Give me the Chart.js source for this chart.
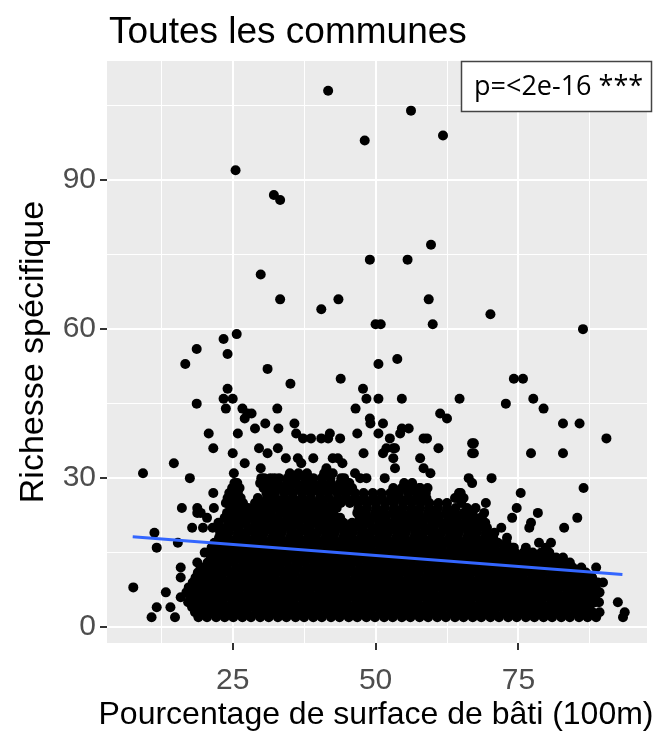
<!DOCTYPE html>
<html>
<head>
<meta charset="utf-8">
<title>Toutes les communes</title>
<script src="https://cdn.jsdelivr.net/npm/chart.js@4.4.1/dist/chart.umd.min.js"></script>
<style>
  body { margin: 0; background: #ffffff; }
  canvas { display: block; }
</style>
</head>
<body>
<canvas id="chart" width="667" height="732"></canvas>
<script>
var richesse = [2, 3, 4, 5, 6, 7, 8, 9, 10, 11, 12, 13, 14, 15, 16, 17, 18, 19, 20, 21, 22, 23, 24, 25, 26, 27, 28, 29, 30, 31];
var batiParRichesse = [
  [19.0, 20.5, 22.1, 23.6, 25.1, 26.7, 28.2, 29.8, 31.3, 32.9, 34.4, 36.0, 37.5, 39.1, 40.6, 42.2, 43.7, 45.3, 46.8, 48.4, 49.9, 51.5, 53.0, 54.6, 56.1, 57.7, 59.2, 60.8, 62.3, 63.9, 65.4, 67.0, 68.5, 70.1, 71.6, 73.2, 74.7, 76.3, 77.8, 79.4, 80.9, 82.5, 84.0, 85.6, 87.1, 88.6],
  [18.4, 19.8, 21.3, 22.9, 24.4, 26.0, 27.5, 29.1, 30.6, 32.2, 33.7, 35.3, 36.8, 38.4, 39.9, 41.5, 43.0, 44.6, 46.1, 47.7, 49.2, 50.8, 52.3, 53.9, 55.4, 57.0, 58.5, 60.1, 61.6, 63.2, 64.7, 66.3, 67.8, 69.4, 70.9, 72.5, 74.0, 75.6, 77.1, 78.7, 80.2, 81.8, 83.3, 84.9, 86.4, 88.0, 89.2],
  [17.9, 19.3, 20.8, 22.4, 23.9, 25.5, 27.0, 28.6, 30.1, 31.7, 33.2, 34.8, 36.3, 37.9, 39.4, 41.0, 42.5, 44.1, 45.6, 47.2, 48.7, 50.3, 51.8, 53.4, 54.9, 56.5, 58.0, 59.6, 61.1, 62.7, 64.2, 65.8, 67.3, 68.9, 70.4, 72.0, 73.5, 75.1, 76.6, 78.2, 79.7, 81.3, 82.8, 84.4, 85.9, 87.4],
  [17.2, 18.7, 20.2, 21.8, 23.3, 24.9, 26.4, 28.0, 29.5, 31.1, 32.6, 34.2, 35.7, 37.3, 38.8, 40.4, 41.9, 43.5, 45.0, 46.6, 48.1, 49.7, 51.2, 52.8, 54.3, 55.9, 57.4, 59.0, 60.5, 62.1, 63.6, 65.2, 66.7, 68.3, 69.8, 71.4, 72.9, 74.5, 76.0, 77.6, 79.1, 80.7, 82.2, 83.8, 85.3, 86.9, 88.4, 89.1],
  [17.6, 19.1, 20.6, 22.2, 23.7, 25.3, 26.8, 28.4, 29.9, 31.5, 33.0, 34.6, 36.1, 37.7, 39.2, 40.8, 42.3, 43.9, 45.4, 47.0, 48.5, 50.1, 51.6, 53.2, 54.7, 56.3, 57.8, 59.4, 60.9, 62.5, 64.0, 65.6, 67.1, 68.7, 70.2, 71.8, 73.3, 74.9, 76.4, 78.0, 79.5, 81.1, 82.6, 84.2, 85.7, 87.2, 88.4],
  [16.9, 18.4, 19.9, 21.5, 23.0, 24.6, 26.1, 27.7, 29.2, 30.8, 32.3, 33.9, 35.4, 37.0, 38.5, 40.1, 41.6, 43.2, 44.7, 46.3, 47.8, 49.4, 50.9, 52.5, 54.0, 55.6, 57.1, 58.7, 60.2, 61.8, 63.3, 64.9, 66.4, 68.0, 69.5, 71.1, 72.6, 74.2, 75.7, 77.3, 78.8, 80.4, 81.9, 83.5, 85.0, 86.6, 88.1, 89.0],
  [17.3, 18.8, 20.3, 21.9, 23.4, 25.0, 26.5, 28.1, 29.6, 31.2, 32.7, 34.3, 35.8, 37.4, 38.9, 40.5, 42.0, 43.6, 45.1, 46.7, 48.2, 49.8, 51.3, 52.9, 54.4, 56.0, 57.5, 59.1, 60.6, 62.2, 63.7, 65.3, 66.8, 68.4, 69.9, 71.5, 73.0, 74.6, 76.1, 77.7, 79.2, 80.8, 82.3, 83.9, 85.4, 87.0, 88.5],
  [18.0, 19.6, 21.1, 22.7, 24.2, 25.8, 27.3, 28.9, 30.4, 32.0, 33.5, 35.1, 36.6, 38.2, 39.7, 41.3, 42.8, 44.4, 45.9, 47.5, 49.0, 50.6, 52.1, 53.7, 55.2, 56.8, 58.3, 59.9, 61.4, 63.0, 64.5, 66.1, 67.6, 69.2, 70.7, 72.3, 73.8, 75.4, 76.9, 78.5, 80.0, 81.6, 83.1, 84.7, 86.2, 87.8, 88.9],
  [18.5, 20.0, 21.6, 23.1, 24.7, 26.2, 27.8, 29.3, 30.9, 32.4, 34.0, 35.5, 37.1, 38.6, 40.2, 41.7, 43.3, 44.8, 46.4, 47.9, 49.5, 51.0, 52.6, 54.1, 55.7, 57.2, 58.8, 60.3, 61.9, 63.4, 65.0, 66.5, 68.1, 69.6, 71.2, 72.7, 74.3, 75.8, 77.4, 78.9, 80.5, 82.0, 83.6, 85.1, 86.7, 87.9],
  [18.9, 20.4, 22.0, 23.5, 25.1, 26.6, 28.2, 29.7, 31.3, 32.8, 34.4, 35.9, 37.5, 39.0, 40.6, 42.1, 43.7, 45.2, 46.8, 48.3, 49.9, 51.4, 53.0, 54.5, 56.1, 57.6, 59.2, 60.7, 62.3, 63.8, 65.4, 66.9, 68.5, 70.0, 71.6, 73.1, 74.7, 76.2, 77.8, 79.3, 80.9, 82.4, 84.0, 85.5, 86.8],
  [19.4, 20.9, 22.5, 24.0, 25.6, 27.1, 28.7, 30.2, 31.8, 33.3, 34.9, 36.4, 38.0, 39.5, 41.1, 42.6, 44.2, 45.7, 47.3, 48.8, 50.4, 51.9, 53.5, 55.0, 56.6, 58.1, 59.7, 61.2, 62.8, 64.3, 65.9, 67.4, 69.0, 70.5, 72.1, 73.6, 75.2, 76.7, 78.3, 79.8, 81.4, 82.9, 84.5, 86.0],
  [20.6, 22.1, 23.7, 25.2, 26.8, 28.3, 29.9, 31.4, 33.0, 34.5, 36.1, 37.6, 39.2, 40.7, 42.3, 43.8, 45.4, 46.9, 48.5, 50.0, 51.6, 53.1, 54.7, 56.2, 57.8, 59.3, 60.9, 62.4, 64.0, 65.5, 67.1, 68.6, 70.2, 71.7, 73.3, 74.8, 76.4, 77.9, 79.5, 81.0, 82.6, 84.0],
  [21.2, 22.7, 24.3, 25.8, 27.4, 28.9, 30.5, 32.0, 33.6, 35.1, 36.7, 38.2, 39.8, 41.3, 42.9, 44.4, 46.0, 47.5, 49.1, 50.6, 52.2, 53.7, 55.3, 56.8, 58.4, 59.9, 61.5, 63.0, 64.6, 66.1, 67.7, 69.2, 70.8, 72.3, 73.9, 75.4, 77.0, 78.5, 80.1, 81.6, 82.8],
  [21.7, 23.2, 24.8, 26.3, 27.9, 29.4, 31.0, 32.5, 34.1, 35.6, 37.2, 38.7, 40.3, 41.8, 43.4, 44.9, 46.5, 48.0, 49.6, 51.1, 52.7, 54.2, 55.8, 57.3, 58.9, 60.4, 62.0, 63.5, 65.1, 66.6, 68.2, 69.7, 71.3, 72.8, 74.4, 75.9, 77.5, 79.0, 80.4],
  [21.3, 22.9, 24.4, 26.0, 27.5, 29.1, 30.6, 32.2, 33.7, 35.3, 36.8, 38.4, 39.9, 41.5, 43.0, 44.6, 46.1, 47.7, 49.2, 50.8, 52.3, 53.9, 55.4, 57.0, 58.5, 60.1, 61.6, 63.2, 64.7, 66.3, 67.8, 69.4, 70.9, 72.5, 74.0],
  [21.8, 23.3, 24.9, 26.4, 28.0, 29.5, 31.1, 32.6, 34.2, 35.7, 37.3, 38.8, 40.4, 41.9, 43.5, 45.0, 46.6, 48.1, 49.7, 51.2, 52.8, 54.3, 55.9, 57.4, 59.0, 60.5, 62.1, 63.6, 65.2, 66.7, 68.3, 69.8, 71.4, 72.9],
  [22.6, 24.1, 25.7, 27.2, 28.8, 30.3, 31.9, 33.4, 35.0, 36.5, 38.1, 39.6, 41.2, 42.7, 44.3, 45.8, 47.4, 48.9, 50.5, 52.0, 53.6, 55.1, 56.7, 58.2, 59.8, 61.3, 62.9, 64.4, 66.0, 67.5, 69.1, 70.6, 73.0],
  [22.8, 24.3, 25.9, 27.4, 29.0, 30.5, 32.1, 33.6, 35.2, 36.7, 38.3, 39.8, 41.4, 42.9, 44.5, 46.0, 47.6, 49.1, 50.7, 52.2, 53.8, 55.3, 56.9, 58.4, 60.0, 61.5, 63.1, 64.6, 66.2, 67.7, 69.3, 70.8],
  [19.8, 21.5, 23.0, 24.6, 26.1, 27.7, 29.2, 30.8, 32.3, 33.9, 35.4, 37.0, 38.5, 40.1, 41.6, 43.2, 44.7, 46.3, 47.8, 49.4, 50.9, 52.5, 54.0, 55.6, 57.1, 58.7, 60.2, 61.8, 63.3, 64.9, 66.4, 68.0, 69.5, 72.0],
  [22.5, 24.2, 25.8, 27.3, 28.9, 30.4, 32.0, 33.5, 35.1, 36.6, 38.2, 39.7, 41.3, 42.8, 44.4, 45.9, 47.5, 49.0, 50.6, 52.1, 53.7, 55.2, 56.8, 58.3, 59.9, 61.4, 63.0, 64.5, 66.1, 67.6, 69.2],
  [23.6, 25.2, 26.7, 28.3, 29.8, 31.4, 32.9, 34.5, 36.0, 37.6, 39.1, 40.7, 42.2, 43.8, 47.2, 48.7, 50.3, 51.8, 53.4, 54.9, 56.5, 58.0, 59.6, 61.1, 62.7, 64.2, 65.8, 67.3, 68.6],
  [24.0, 25.5, 27.1, 28.6, 30.2, 31.7, 33.3, 34.8, 36.4, 37.9, 39.5, 41.0, 42.6, 46.8, 48.3, 49.9, 51.4, 53.0, 54.5, 56.1, 57.6, 59.2, 60.7, 62.3, 63.8, 65.4, 67.0, 69.0],
  [24.6, 26.1, 27.7, 29.2, 30.8, 32.3, 33.9, 35.4, 37.0, 38.5, 40.1, 41.6, 43.2, 47.0, 48.5, 50.1, 51.6, 53.2, 54.7, 56.3, 57.8, 59.4, 60.9, 62.5, 64.0, 66.0],
  [23.8, 25.3, 26.8, 30.0, 31.5, 33.1, 34.6, 36.2, 37.7, 39.3, 40.8, 42.4, 43.9, 45.5, 47.0, 48.6, 50.1, 51.7, 53.2, 54.8, 56.3, 57.9, 59.4, 61.0, 62.5, 65.0],
  [24.1, 25.6, 29.4, 31.0, 32.5, 34.1, 35.6, 37.2, 38.7, 40.3, 41.8, 43.4, 44.9, 46.5, 48.0, 49.6, 51.1, 52.7, 54.2, 55.8, 57.3, 58.9, 63.9, 65.4],
  [24.4, 25.9, 30.9, 32.4, 34.0, 35.5, 37.1, 38.6, 40.2, 41.7, 43.3, 44.8, 46.4, 47.9, 49.5, 51.0, 52.6, 54.1, 55.7, 57.2, 58.8, 64.6],
  [24.9, 26.2, 30.4, 31.9, 33.5, 35.0, 36.6, 38.1, 39.7, 41.2, 42.8, 44.3, 45.9, 54.6, 56.1, 57.7, 59.1],
  [25.3, 29.8, 31.3, 32.9, 34.5, 36.0, 37.6, 39.1, 40.7, 42.2, 43.8, 45.4, 55.0, 56.4],
  [30.0, 31.6, 33.1, 34.6, 36.1, 37.6, 39.1, 40.6, 42.1, 44.5],
  [35.0, 36.5, 38.0, 41.0, 42.5]
];

// Communes isolées, hors du nuage principal
var isolesBati = [41.7, 56.2, 61.8, 48.1, 25.5, 32.2, 33.3, 59.7, 49.0, 55.6, 29.9, 33.3, 43.5, 59.3, 40.5, 70.1,
  50.0, 50.9, 60.0, 86.3, 25.7, 23.4, 18.7, 24.1, 53.8, 16.7, 50.5, 31.1, 43.9, 74.2, 75.8, 35.1, 24.1, 47.8,
  23.4, 25.0, 48.4, 50.5, 54.6, 64.7, 77.6, 18.7, 72.8, 23.8, 26.7, 32.8, 46.5, 79.4, 27.6, 28.3, 61.3,
  27.1, 49.0, 62.5, 30.7, 35.8, 49.1, 51.3, 82.8, 85.7, 28.9, 33.0, 54.6, 55.8, 20.8, 25.9, 36.1, 42.0, 46.8, 50.5, 54.3,
  37.3, 38.7, 40.5, 41.7, 43.8, 52.5, 58.4, 59.0, 90.4, 66.9, 67.2, 21.6, 29.6, 32.9, 51.9, 53.1, 53.4, 61.0,
  25.0, 31.1, 47.9, 51.3, 66.9, 67.2, 77.2, 82.8, 34.3, 36.4, 39.1, 42.5, 43.4, 53.1, 57.8, 14.7, 27.1, 37.0, 44.2,
  29.9, 41.4, 53.4, 58.4, 9.3, 25.2, 46.4, 59.6, 17.5, 30.5, 32.3, 44.0, 47.3, 48.4, 51.6, 66.3, 70.3,
  25.8, 34.6, 44.6, 66.9, 25.2, 33.5, 53.1, 55.8, 57.8, 86.4, 21.6, 44.9, 58.4, 64.9, 75.4, 24.5, 26.4, 32.3, 64.3,
  28.9, 30.8, 69.3, 16.1, 18.8, 21.7, 67.5, 74.7, 18.8, 19.4, 78.4, 20.5, 68.4, 73.9, 85.3, 77.2, 17.9, 76.9, 83.0,
  11.3, 15.4, 78.6, 80.7, 11.7, 74.2, 76.3, 79.8, 20.1, 71.0, 18.8, 15.9, 83.6, 88.6, 85.7, 15.9, 89.8, 7.6,
  13.3, 89.2, 15.9, 92.4, 11.7, 14.1, 93.6, 10.8, 14.9, 93.3];
var isolesRichesse = [108, 104, 99, 98, 92, 87, 86, 77, 74, 74, 71, 66, 66, 66, 64, 63,
  61, 61, 61, 60, 59, 58, 56, 55, 54, 53, 53, 52, 50, 50, 50, 49, 48, 48,
  46, 46, 46, 46, 46, 46, 46, 45, 45, 44, 44, 44, 44, 44, 43, 43, 43,
  42, 42, 42, 41, 41, 41, 41, 41, 41, 40, 40, 40, 40, 39, 39, 39, 39, 39, 39, 39,
  38, 38, 38, 38, 38, 38, 38, 38, 38, 37, 37, 36, 36, 36, 36, 36, 36, 36,
  35, 35, 35, 35, 35, 35, 35, 35, 34, 34, 34, 34, 34, 34, 34, 33, 33, 33, 33,
  32, 32, 32, 32, 31, 31, 31, 31, 30, 30, 30, 30, 30, 30, 30, 30, 30,
  29, 29, 29, 29, 28, 28, 28, 28, 28, 28, 27, 27, 27, 27, 27, 26, 26, 26, 26,
  25, 25, 25, 24, 24, 24, 24, 24, 23, 23, 23, 22, 22, 22, 22, 21, 20, 20, 20,
  19, 17, 17, 17, 16, 16, 16, 16, 15, 15, 13, 12, 12, 12, 11, 10, 9, 8,
  7, 7, 6, 5, 4, 4, 3, 2, 2, 2];

// Droite de régression (extrémités)
var droiteBati = [7.5, 93.2];
var droiteRichesse = [18.2, 10.6];

var xTicks = [12.5, 25, 37.5, 50, 62.5, 75, 87.5];
var yTicks = [0, 15, 30, 45, 60, 75, 90, 105];

var titre = "Toutes les communes";
var titreX = "Pourcentage de surface de bâti (100m)";
var annotation = "p=<2e-16 ***";

// Build the point list for the scatter dataset
var nuage = [];
for (var i = 0; i < richesse.length; i++) {
  for (var j = 0; j < batiParRichesse[i].length; j++) {
    nuage.push({ x: batiParRichesse[i][j], y: richesse[i] });
  }
}
for (var k = 0; k < isolesBati.length; k++) {
  nuage.push({ x: isolesBati[k], y: isolesRichesse[k] });
}

var droite = droiteBati.map(function (x, i) {
  return { x: x, y: droiteRichesse[i] };
});

// Grey panel, titles and p-value box
var ggPanel = {
  id: "ggPanel",
  beforeDraw: function (chart) {
    var ctx = chart.ctx;
    var a = chart.chartArea;
    ctx.save();
    ctx.fillStyle = "#ffffff";
    ctx.fillRect(0, 0, chart.width, chart.height);
    ctx.fillStyle = "#EBEBEB";
    ctx.fillRect(a.left, a.top, a.right - a.left, a.bottom - a.top);
    ctx.restore();
  },
  afterDraw: function (chart) {
    var ctx = chart.ctx;
    var a = chart.chartArea;
    ctx.save();
    ctx.fillStyle = "#000000";
    ctx.font = '37px "Liberation Sans", Arial, sans-serif';
    ctx.textBaseline = "alphabetic";
    ctx.textAlign = "left";
    ctx.fillText(titre, a.left + 2, 43);

    // x axis title, wider than the panel in the original
    ctx.font = '32px "Liberation Sans", Arial, sans-serif';
    ctx.textAlign = "center";
    ctx.fillText(titreX, (a.left + a.right) / 2 - 1, 724);

    // p-value box
    ctx.fillStyle = "#ffffff";
    ctx.fillRect(461, 61, 191, 51);
    ctx.strokeStyle = "#444444";
    ctx.lineWidth = 1.5;
    ctx.strokeRect(461.5, 61.5, 190, 50);
    ctx.fillStyle = "#000000";
    ctx.font = '27px "Open Sans", "Noto Sans", sans-serif';
    ctx.textAlign = "left";
    ctx.textBaseline = "middle";
    ctx.fillText(annotation, 474, 87);
    ctx.restore();
  }
};

function gridOptions(isMajor) {
  return {
    color: "#FFFFFF",
    lineWidth: function (c) { return isMajor(c.tick.value) ? 2 : 1; },
    drawTicks: true,
    tickLength: 7,
    tickWidth: 2,
    tickColor: function (c) { return isMajor(c.tick.value) ? "#333333" : "rgba(0,0,0,0)"; }
  };
}

var isMajorX = function (v) { return v % 25 === 0; };
var isMajorY = function (v) { return v % 30 === 0; };

var ctx = document.getElementById("chart").getContext("2d");
new Chart(ctx, {
  type: "scatter",
  data: {
    datasets: [
      {
        type: "line",
        data: droite,
        borderColor: "#3366FF",
        borderWidth: 3,
        pointRadius: 0,
        fill: false
      },
      {
        data: nuage,
        backgroundColor: "#000000",
        borderWidth: 0,
        pointRadius: 5,
        pointHoverRadius: 5
      }
    ]
  },
  options: {
    responsive: false,
    animation: false,
    devicePixelRatio: 1,
    layout: { padding: { top: 61, right: 20, left: 0, bottom: 0 } },
    plugins: {
      legend: { display: false },
      tooltip: { enabled: false }
    },
    scales: {
      x: {
        type: "linear",
        min: 3,
        max: 97.5,
        afterBuildTicks: function (s) { s.ticks = xTicks.map(function (v) { return { value: v }; }); },
        afterFit: function (s) { s.height = 89; },
        border: { display: false },
        grid: gridOptions(isMajorX),
        ticks: {
          autoSkip: false,
          maxRotation: 0,
          padding: 13,
          color: "#4D4D4D",
          font: { family: '"Liberation Sans", Arial, sans-serif', size: 30 },
          callback: function (v) { return isMajorX(v) ? String(v) : ""; }
        },
        title: { display: false }
      },
      y: {
        type: "linear",
        min: -3.2,
        max: 114,
        afterBuildTicks: function (s) { s.ticks = yTicks.map(function (v) { return { value: v }; }); },
        afterFit: function (s) { s.width = 107; },
        border: { display: false },
        grid: gridOptions(isMajorY),
        ticks: {
          autoSkip: false,
          padding: 4,
          color: "#4D4D4D",
          font: { family: '"Liberation Sans", Arial, sans-serif', size: 30 },
          callback: function (v) { return isMajorY(v) ? String(v) : ""; }
        },
        title: {
          display: true,
          text: "Richesse spécifique",
          color: "#000000",
          font: { family: '"Liberation Sans", Arial, sans-serif', size: 34 },
          padding: { top: 13, bottom: 0 }
        }
      }
    }
  },
  plugins: [ggPanel]
});
</script>
</body>
</html>
